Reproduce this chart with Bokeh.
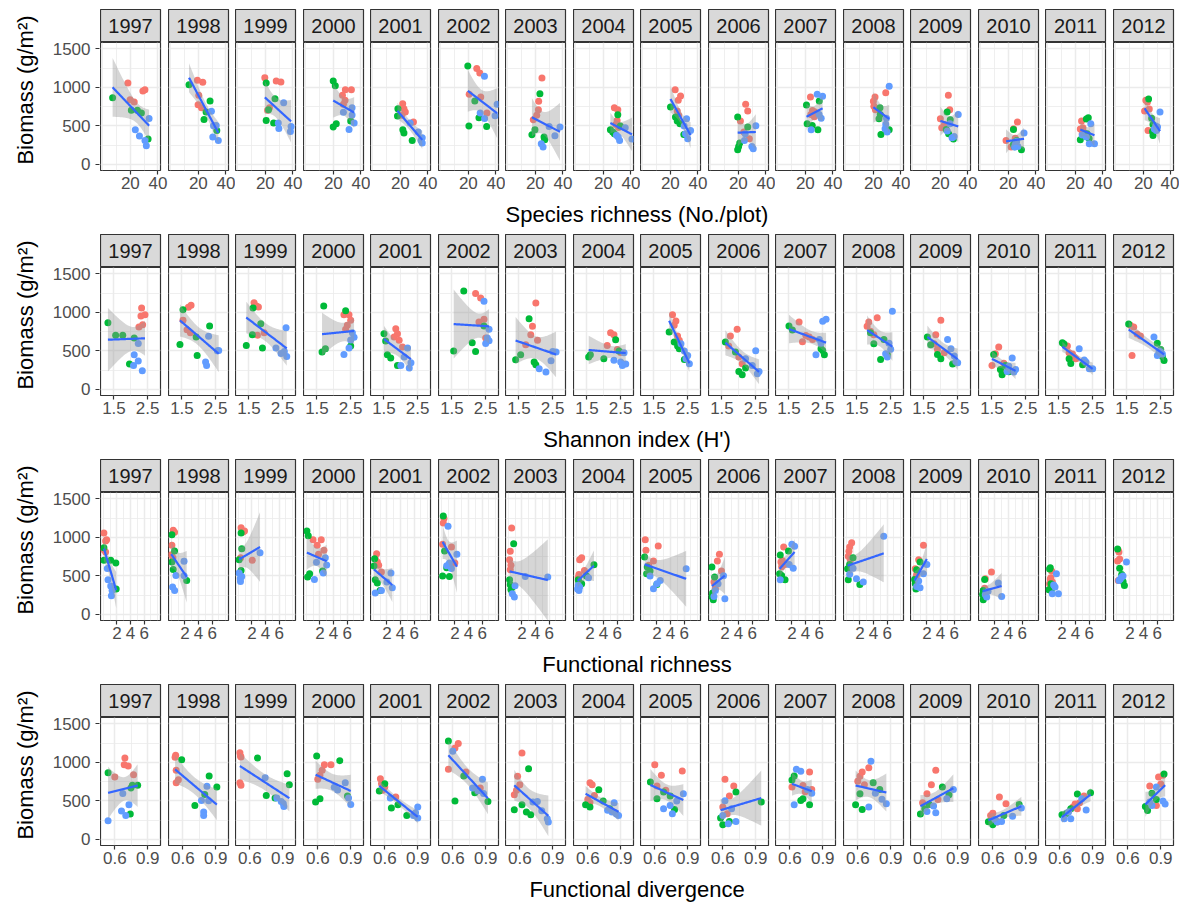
import numpy as np
from bokeh.plotting import figure
from bokeh.layouts import row, column
from bokeh.models import Range1d, FixedTicker, LinearAxis, Grid, ColumnDataSource
from bokeh.core.properties import value
from bokeh.embed import file_html
from bokeh.resources import INLINE

YEARS = [1997, 1998, 1999, 2000, 2001, 2002, 2003, 2004,
         2005, 2006, 2007, 2008, 2009, 2010, 2011, 2012]
# 15 plots per year: 5 of each group
GROUPS = ["a"] * 5 + ["b"] * 5 + ["c"] * 5
GROUP_COLORS = {"a": "#F8766D", "b": "#00BA38", "c": "#619CFF"}

# biomass (g/m2), species richness, Shannon H', functional richness, functional divergence
bm1997 = [1058, 971, 954, 841, 811, 867, 703, 703, 668, 330, 598, 451, 369, 312, 243]
sr1997 = [18.2, 30.6, 29.1, 19.8, 22.8, 7.1, 20.7, 25.1, 28.0, 32.9, 33.6, 23.6, 26.6, 30.6, 31.6]
sh1997 = [2.32, 2.42, 2.30, 2.35, 2.24, 1.32, 1.55, 1.76, 2.10, 1.96, 2.22, 2.10, 2.22, 2.08, 2.34]
fr1997 = [0.1, 0.5, 0.35, 0.1, 0.35, 0.1, 0.1, 1.1, 1.85, 1.9, 0.6, 0.7, 1.1, 1.3, 1.2]
fd1997 = [0.692, 0.686, 0.722, 0.771, 0.60, 0.539, 0.808, 0.76, 0.747, 0.741, 0.673, 0.729, 0.661, 0.70, 0.539]

bm1998 = [1093, 1067, 898, 776, 737, 1036, 824, 681, 585, 442, 690, 507, 503, 356, 312]
sr1998 = [19.3, 23.2, 20.3, 19.8, 22.3, 13.2, 28.5, 25.6, 24.1, 33.4, 29.5, 33.0, 31.0, 30.5, 34.5]
sh1998 = [1.77, 1.69, 1.53, 1.65, 1.75, 1.53, 2.32, 1.92, 1.44, 1.95, 2.29, 2.59, 2.55, 2.20, 2.23]
fr1998 = [0.29, 0.49, 0.1, 0.0, 0.25, 0.1, 0.49, 0.1, 0.29, 2.27, 1.88, 0.69, 1.88, 0.2, 0.5]
fd1998 = [0.535, 0.53, 0.54, 0.56, 0.54, 0.59, 0.84, 0.91, 0.80, 0.71, 0.82, 0.77, 0.835, 0.79, 0.79]

bm1999 = [1127, 1084, 1071, 737, 703, 1058, 854, 711, 572, 538, 802, 538, 494, 468, 429]
sr1999 = [19.6, 27.9, 31.3, 23.0, 21.6, 20.6, 27.0, 22.3, 20.6, 26.0, 33.3, 29.4, 38.7, 29.8, 38.2]
sh1999 = [1.65, 1.72, 1.78, 1.95, 1.75, 1.62, 1.85, 1.6, 1.42, 1.9, 2.6, 2.3, 2.55, 2.45, 2.62]
fr1999 = [0.42, 0.92, 0.7, 0.35, 2.06, 0.42, 0.52, 0.13, 0.42, 0.2, 3.2, 0.13, 0.52, 0.3, 0.33]
fd1999 = [0.51, 0.515, 0.52, 0.51, 0.52, 0.67, 0.94, 0.96, 0.75, 0.83, 0.74, 0.846, 0.886, 0.905, 0.91]

bm2000 = [971, 971, 898, 833, 781, 1084, 1023, 564, 529, 486, 737, 677, 642, 538, 455]
sr2000 = [28.7, 33.1, 26.6, 28.5, 27.3, 19.9, 21.4, 32.6, 22.1, 19.9, 33.6, 27.3, 33.6, 35.1, 31.4]
sh2000 = [2.3, 2.45, 2.5, 2.4, 2.35, 1.7, 2.35, 2.5, 1.75, 1.65, 2.55, 2.6, 2.5, 2.45, 2.3]
fr2000 = [1.0, 2.2, 1.6, 2.6, 1.8, 0.1, 0.3, 2.4, 0.5, 0.2, 2.8, 1.5, 3.0, 2.5, 1.2]
fd2000 = [0.66, 0.72, 0.64, 0.62, 0.60, 0.59, 0.80, 0.87, 0.62, 0.58, 0.85, 0.75, 0.78, 0.88, 0.90]

bm2001 = [789, 724, 680, 640, 551, 724, 629, 451, 408, 312, 538, 420, 347, 312, 278]
sr2001 = [21.7, 22.6, 23.6, 21.0, 29.5, 18.2, 17.9, 21.8, 22.6, 28.6, 27.1, 33.0, 35.9, 35.0, 35.9]
sh2001 = [1.85, 1.9, 1.8, 1.95, 2.05, 1.5, 1.55, 1.6, 1.7, 1.9, 2.2, 2.1, 2.3, 2.0, 2.25]
fr2001 = [0.5, 0.3, 0.6, 0.8, 1.2, 0.2, 0.1, 0.3, 0.6, 1.0, 2.6, 2.0, 2.8, 1.2, 0.3]
fd2001 = [0.56, 0.57, 0.6, 0.58, 0.7, 0.6, 0.55, 0.72, 0.66, 0.8, 0.65, 0.9, 0.88, 0.86, 0.90]

bm2002 = [1245, 1188, 911, 876, 668, 1279, 824, 607, 499, 494, 1145, 781, 668, 633, 598]
sr2002 = [26.1, 28.3, 20.6, 29.0, 33.5, 19.6, 24.7, 27.7, 20.4, 33.3, 31.7, 40.9, 28.6, 39.4, 31.8]
sh2002 = [2.2, 2.35, 2.45, 2.3, 2.5, 1.85, 2.45, 2.1, 1.55, 2.2, 2.45, 2.6, 2.55, 2.6, 2.5]
fr2002 = [0.4, 0.3, 0.2, 1.5, 2.0, 0.3, 0.5, 0.8, 0.2, 1.2, 1.0, 2.3, 1.2, 0.8, 1.5]
fd2002 = [0.65, 0.62, 0.56, 0.72, 0.85, 0.56, 0.70, 0.80, 0.62, 0.92, 0.60, 0.87, 0.78, 0.83, 0.88]

bm2003 = [1123, 820, 711, 640, 581, 919, 451, 386, 356, 321, 494, 486, 373, 269, 226]
sr2003 = [24.8, 22.4, 22.2, 21.0, 18.5, 23.3, 19.7, 17.5, 26.3, 26.8, 30.0, 37.9, 34.2, 24.3, 25.6]
sh2003 = [2.0, 1.9, 1.85, 2.05, 1.7, 1.8, 1.55, 1.4, 1.95, 2.0, 2.5, 2.6, 2.45, 2.1, 2.3]
fr2003 = [0.5, 0.3, 0.2, 0.4, 0.3, 0.8, 0.2, 0.3, 0.6, 0.4, 2.5, 5.8, 1.0, 0.6, 0.9]
fd2003 = [0.62, 0.58, 0.60, 0.57, 0.55, 0.68, 0.62, 0.55, 0.66, 0.70, 0.76, 0.72, 0.80, 0.85, 0.86]

bm2004 = [737, 711, 572, 520, 480, 646, 499, 451, 421, 400, 477, 380, 356, 330, 312]
sr2004 = [28.0, 30.5, 30.0, 29.0, 31.0, 30.5, 32.3, 25.1, 26.8, 28.0, 35.9, 29.5, 30.8, 40.8, 31.8]
sh2004 = [2.2, 2.3, 2.1, 2.4, 2.5, 2.35, 2.45, 1.6, 1.55, 2.0, 2.6, 2.3, 2.5, 2.65, 2.55]
fr2004 = [0.8, 0.5, 1.2, 0.4, 0.3, 2.6, 1.5, 0.3, 0.4, 0.8, 1.8, 0.3, 0.5, 0.2, 0.4]
fd2004 = [0.62, 0.64, 0.66, 0.60, 0.62, 0.70, 0.74, 0.58, 0.62, 0.80, 0.84, 0.78, 0.82, 0.86, 0.88]

bm2005 = [971, 889, 833, 694, 640, 746, 616, 564, 529, 390, 594, 500, 442, 400, 334]
sr2005 = [23.5, 27.4, 25.7, 25.0, 26.0, 20.1, 23.7, 25.0, 27.0, 29.8, 31.8, 30.0, 34.7, 31.0, 32.6]
sh2005 = [2.05, 2.15, 2.1, 2.2, 2.25, 1.95, 2.1, 2.2, 2.25, 2.4, 2.3, 2.4, 2.5, 2.45, 2.55]
fr2005 = [0.3, 2.2, 0.4, 1.5, 0.8, 0.2, 0.6, 1.0, 0.5, 2.0, 6.3, 1.0, 2.5, 2.0, 1.5]
fd2005 = [0.60, 0.85, 0.66, 0.62, 0.70, 0.56, 0.68, 0.74, 0.62, 0.78, 0.86, 0.80, 0.74, 0.68, 0.76]

bm2006 = [781, 694, 564, 420, 334, 616, 486, 278, 234, 191, 503, 400, 312, 234, 204]
sr2006 = [25.3, 26.8, 21.5, 24.0, 28.0, 19.5, 26.8, 21.0, 20.2, 19.5, 32.7, 25.0, 24.4, 29.8, 30.8]
sh2006 = [1.95, 1.75, 1.7, 2.0, 2.1, 1.6, 1.9, 2.2, 2.0, 2.1, 2.5, 2.2, 2.4, 2.6, 2.55]
fr2006 = [1.2, 0.9, 1.5, 0.4, 0.6, 0.1, 0.5, 0.2, 0.1, 0.3, 1.8, 1.0, 0.6, 0.4, 2.0]
fd2006 = [0.62, 0.70, 0.66, 0.60, 0.64, 0.72, 0.95, 0.58, 0.66, 0.60, 0.62, 0.68, 0.60, 0.72, 0.65]

bm2007 = [876, 700, 681, 650, 620, 824, 772, 529, 507, 451, 911, 885, 650, 600, 451]
sr2007 = [23.7, 25.2, 27.0, 24.0, 26.5, 30.1, 20.8, 21.3, 25.0, 29.1, 28.6, 32.5, 30.0, 31.5, 24.2]
sh2007 = [1.8, 2.0, 2.1, 2.2, 1.9, 1.5, 1.6, 2.45, 2.5, 2.55, 2.6, 2.5, 2.4, 2.45, 2.3]
fr2007 = [0.8, 0.6, 0.4, 1.0, 0.5, 1.5, 0.3, 0.2, 0.5, 1.0, 2.0, 2.4, 1.6, 2.2, 0.3]
fd2007 = [0.78, 0.72, 0.62, 0.80, 0.74, 0.64, 0.62, 0.72, 0.70, 0.78, 0.66, 0.70, 0.76, 0.80, 0.64]

bm2008 = [932, 876, 820, 755, 711, 737, 650, 594, 451, 390, 1015, 600, 521, 464, 421]
sr2008 = [29.0, 21.2, 20.0, 20.4, 21.5, 24.8, 25.0, 24.1, 31.5, 25.5, 31.5, 29.5, 29.0, 28.5, 30.0]
sh2008 = [2.1, 1.85, 1.8, 1.9, 2.0, 1.9, 2.3, 2.0, 2.4, 2.2, 2.55, 2.45, 2.5, 2.35, 2.4]
fr2008 = [0.8, 0.5, 0.4, 0.3, 0.6, 1.0, 0.5, 0.2, 0.3, 2.0, 5.5, 1.0, 0.5, 1.5, 2.5]
fd2008 = [0.70, 0.64, 0.62, 0.60, 0.66, 0.74, 0.80, 0.62, 0.58, 0.64, 0.72, 0.76, 0.82, 0.86, 0.70]

bm2009 = [898, 711, 594, 520, 477, 681, 581, 455, 400, 330, 650, 529, 434, 364, 347]
sr2009 = [25.8, 26.8, 20.0, 23.0, 21.0, 24.9, 27.2, 24.3, 26.0, 29.5, 33.0, 27.0, 25.0, 30.0, 28.5]
sh2009 = [2.0, 1.85, 1.8, 1.9, 2.1, 1.6, 1.7, 1.9, 2.0, 2.35, 2.2, 2.3, 2.4, 2.45, 2.5]
fr2009 = [1.5, 0.8, 0.3, 0.5, 0.4, 1.0, 0.5, 0.2, 0.3, 0.4, 2.0, 1.5, 0.8, 0.5, 1.0]
fd2009 = [0.70, 0.66, 0.62, 0.72, 0.58, 0.76, 0.82, 0.64, 0.60, 0.56, 0.86, 0.80, 0.68, 0.62, 0.70]

bm2010 = [551, 464, 340, 312, 226, 455, 312, 260, 230, 191, 408, 300, 260, 234, 226]
sr2010 = [26.6, 23.8, 25.0, 18.3, 22.0, 23.7, 26.0, 23.7, 24.5, 29.5, 31.4, 26.0, 25.0, 26.9, 24.5]
sh2010 = [1.7, 1.6, 1.85, 1.5, 1.8, 1.55, 1.9, 1.75, 2.0, 1.8, 2.1, 2.0, 2.2, 1.95, 2.15]
fr2010 = [1.5, 0.6, 0.5, 0.3, 0.4, 0.5, 0.3, 0.2, 0.4, 0.3, 2.5, 1.0, 0.6, 3.0, 0.8]
fd2010 = [0.66, 0.72, 0.60, 0.58, 0.64, 0.84, 0.70, 0.62, 0.56, 0.60, 0.86, 0.78, 0.62, 0.68, 0.64]

bm2011 = [564, 477, 460, 420, 400, 607, 590, 400, 338, 321, 529, 382, 356, 269, 269]
sr2011 = [24.5, 25.5, 23.6, 26.0, 25.0, 29.4, 28.0, 28.5, 30.0, 23.6, 31.2, 25.0, 28.0, 30.1, 33.9]
sh2011 = [1.75, 1.8, 1.9, 1.95, 2.0, 1.6, 1.65, 1.8, 1.85, 2.2, 2.1, 2.25, 2.3, 2.4, 2.5]
fr2011 = [0.5, 0.4, 0.3, 0.6, 0.2, 0.3, 0.2, 0.4, 0.5, 0.1, 1.2, 0.8, 1.0, 1.5, 0.6]
fd2011 = [0.82, 0.78, 0.74, 0.72, 0.76, 0.88, 0.76, 0.70, 0.66, 0.62, 0.80, 0.84, 0.68, 0.64, 0.70]

bm2012 = [833, 811, 720, 694, 442, 850, 600, 520, 429, 377, 681, 500, 486, 460, 440]
sr2012 = [21.8, 23.0, 24.3, 20.9, 23.4, 23.8, 26.0, 27.0, 26.6, 27.0, 32.1, 29.0, 30.3, 28.0, 29.5]
sh2012 = [1.6, 1.7, 1.8, 1.9, 1.65, 1.55, 2.4, 2.5, 2.55, 2.6, 2.3, 2.45, 2.5, 2.55, 2.4]
fr2012 = [0.3, 0.4, 0.5, 0.2, 0.3, 0.2, 0.5, 0.8, 1.0, 1.2, 1.5, 1.0, 0.8, 0.6, 0.4]
fd2012 = [0.92, 0.88, 0.90, 0.80, 0.86, 0.93, 0.82, 0.86, 0.76, 0.78, 0.86, 0.92, 0.80, 0.94, 0.82]

BIOMASS = [bm1997, bm1998, bm1999, bm2000, bm2001, bm2002, bm2003, bm2004,
           bm2005, bm2006, bm2007, bm2008, bm2009, bm2010, bm2011, bm2012]
SR = [sr1997, sr1998, sr1999, sr2000, sr2001, sr2002, sr2003, sr2004,
      sr2005, sr2006, sr2007, sr2008, sr2009, sr2010, sr2011, sr2012]
SH = [sh1997, sh1998, sh1999, sh2000, sh2001, sh2002, sh2003, sh2004,
      sh2005, sh2006, sh2007, sh2008, sh2009, sh2010, sh2011, sh2012]
FR = [fr1997, fr1998, fr1999, fr2000, fr2001, fr2002, fr2003, fr2004,
      fr2005, fr2006, fr2007, fr2008, fr2009, fr2010, fr2011, fr2012]
FD = [fd1997, fd1998, fd1999, fd2000, fd2001, fd2002, fd2003, fd2004,
      fd2005, fd2006, fd2007, fd2008, fd2009, fd2010, fd2011, fd2012]

X_TITLES = ["Species richness (No./plot)", "Shannon index (H')",
            "Functional richness", "Functional divergence"]
Y_TITLE = "Biomass (g/m\u00b2)"
X_TICKS = [[20, 40], [1.5, 2.5], [2, 4, 6], [0.6, 0.9]]
X_TICK_LABELS = [["20", "40"], ["1.5", "2.5"], ["2", "4", "6"], ["0.6", "0.9"]]
X_MINOR = [[0, 10, 30], [2.0], [0, 1, 3, 5, 7, 8], [0.75]]
X_RANGES = [(-1.7, 41.9), (1.1, 2.88), (-0.4, 8.4), (0.47, 1.016)]
Y_TICKS = [0, 500, 1000, 1500]
Y_MINOR = [250, 750, 1250]
Y_RANGE = (-78, 1583)
NO_FIT = {(2, 2011), (2, 2012)}
T975_DF13 = 2.1604

FONT = "Liberation Sans"
FRAME_W, FRAME_H, STRIP_H = 60, 128, 33
YAXIS_W = 100
GAPS = [8, 7, 8, 7, 8, 7, 8, 7, 8, 7, 8, 7, 8, 7, 8]
RIGHT_LAST = 6
BOTTOM = 26
TOP0 = 9
TITLE_H = [38, 38, 38, 31]
TITLE_BASE = 18


def lm_band(x, y, n=60):
    x = np.asarray(x, float)
    y = np.asarray(y, float)
    N = len(x)
    xm, ym = x.mean(), y.mean()
    sxx = ((x - xm) ** 2).sum()
    b = ((x - xm) * (y - ym)).sum() / sxx
    a = ym - b * xm
    s = np.sqrt(((y - (a + b * x)) ** 2).sum() / (N - 2))
    xs = np.linspace(x.min(), x.max(), n)
    yh = a + b * xs
    se = s * np.sqrt(1.0 / N + (xs - xm) ** 2 / sxx)
    return xs, yh, yh - T975_DF13 * se, yh + T975_DF13 * se


def strip_fig(year, rb, tb):
    p = figure(frame_width=FRAME_W, frame_height=STRIP_H, x_range=Range1d(0, 1),
               y_range=Range1d(0, 1), x_axis_type=None, y_axis_type=None,
               toolbar_location=None, output_backend="svg",
               min_border_left=0, min_border_right=rb, min_border_top=tb,
               min_border_bottom=0, background_fill_color="#D9D9D9",
               border_fill_color="white", outline_line_color="#333333",
               outline_line_width=1.2)
    p.text(x=[0.5], y=[0.5], text=[str(year)], text_align="center",
           text_baseline="middle", text_font_size="20px", text_color="#1A1A1A",
           text_font=value(FONT))
    return p


def yaxis_fig(tb):
    # frame spans strip + panel so the title centres like ggplot's; ticks keep
    # the panel's scale because the range is extended by the strip's share
    span = Y_RANGE[1] - Y_RANGE[0]
    top = Y_RANGE[1] + STRIP_H * span / FRAME_H
    p = figure(frame_width=1, frame_height=STRIP_H + FRAME_H, x_range=Range1d(0, 1),
               y_range=Range1d(Y_RANGE[0], top), x_axis_type=None, y_axis_type=None,
               toolbar_location=None, output_backend="svg",
               min_border_left=YAXIS_W - 1, min_border_right=0,
               min_border_top=tb, min_border_bottom=BOTTOM,
               outline_line_color=None, border_fill_color="white",
               background_fill_color="white")
    ya = LinearAxis(ticker=FixedTicker(ticks=Y_TICKS),
                    major_label_overrides={t: str(t) for t in Y_TICKS},
                    axis_line_color=None, major_tick_line_color="#333333",
                    major_tick_line_width=1.2, major_tick_out=4, major_tick_in=0,
                    minor_tick_out=0, minor_tick_in=0, major_label_standoff=5,
                    major_label_text_font=FONT, major_label_text_font_size="17px",
                    major_label_text_color="#4D4D4D", axis_label=Y_TITLE,
                    axis_label_text_font=FONT, axis_label_text_font_size="22px",
                    axis_label_text_font_style="normal",
                    axis_label_text_color="black", axis_label_standoff=12)
    p.add_layout(ya, "left")
    return p


def panel_fig(m, k, xvals, yvals, rb):
    p = figure(frame_width=FRAME_W, frame_height=FRAME_H,
               x_range=Range1d(*X_RANGES[m]), y_range=Range1d(*Y_RANGE),
               x_axis_type=None, y_axis_type=None, toolbar_location=None,
               output_backend="svg", min_border_left=0, min_border_right=rb,
               min_border_top=0, min_border_bottom=BOTTOM,
               background_fill_color="white", border_fill_color="white",
               outline_line_color="#333333", outline_line_width=1.2)
    xt = FixedTicker(ticks=X_TICKS[m], minor_ticks=X_MINOR[m])
    yt = FixedTicker(ticks=Y_TICKS, minor_ticks=Y_MINOR)
    for dim, tk in ((0, xt), (1, yt)):
        p.add_layout(Grid(dimension=dim, ticker=tk, grid_line_color="#EBEBEB",
                          grid_line_width=1.5, minor_grid_line_color="#EBEBEB",
                          minor_grid_line_width=0.8), "center")
    xa = LinearAxis(ticker=FixedTicker(ticks=X_TICKS[m]),
                    major_label_overrides={t: l for t, l in zip(X_TICKS[m], X_TICK_LABELS[m])},
                    axis_line_color=None, major_tick_line_color="#333333",
                    major_tick_line_width=1.2, major_tick_out=4, major_tick_in=0,
                    minor_tick_out=0, minor_tick_in=0, major_label_standoff=2,
                    major_label_text_font=FONT, major_label_text_font_size="17px",
                    major_label_text_color="#4D4D4D")
    p.add_layout(xa, "below")
    src = ColumnDataSource(dict(x=xvals, y=yvals,
                                c=[GROUP_COLORS[g] for g in GROUPS]))
    p.scatter("x", "y", source=src, size=7, fill_color="c", line_color=None)
    if (m, YEARS[k]) not in NO_FIT:
        xs, yh, lo, hi = lm_band(xvals, yvals)
        p.varea(x=xs, y1=lo, y2=hi, fill_color="#999999", fill_alpha=0.4)
        p.line(xs, yh, line_color="#3366FF", line_width=2.2)
    return p


rows = []
metrics = [SR, SH, FR, FD]
panels_w = FRAME_W * 16 + sum(GAPS)
total_w = YAXIS_W + panels_w + RIGHT_LAST
for m, data in enumerate(metrics):
    tb = TOP0 if m == 0 else 0
    cols = [yaxis_fig(tb)]
    for k, year in enumerate(YEARS):
        rb = RIGHT_LAST if k == 15 else GAPS[k]
        s = strip_fig(year, rb, tb)
        pf = panel_fig(m, k, data[k], BIOMASS[k], rb)
        cols.append(column(s, pf, spacing=0))
    th = TITLE_H[m]
    t = figure(width=total_w, height=th, x_range=Range1d(0, total_w),
               y_range=Range1d(0, th), x_axis_type=None, y_axis_type=None,
               toolbar_location=None, output_backend="svg", min_border=0,
               outline_line_color=None, border_fill_color="white",
               background_fill_color="white")
    t.text(x=[YAXIS_W + panels_w / 2], y=[th - TITLE_BASE],
           text=[X_TITLES[m]], text_align="center", text_baseline="alphabetic",
           text_font_size="22px", text_color="black", text_font=value(FONT))
    rows.append(row(*cols, spacing=0))
    rows.append(t)

layout = column(*rows, spacing=0)
open("out.html", "w").write(file_html(layout, INLINE))
